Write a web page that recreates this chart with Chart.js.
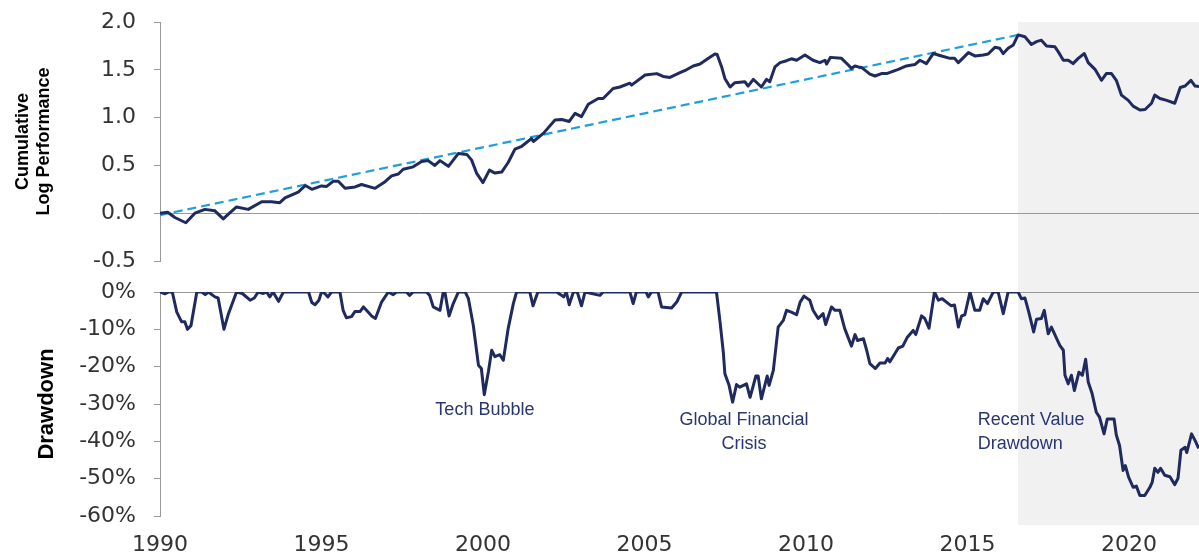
<!DOCTYPE html>
<html>
<head>
<meta charset="utf-8">
<script src="https://cdn.jsdelivr.net/npm/chart.js@4"></script>
<style>
  body { margin: 0; background: #fff; }
  #wrap { position: relative; width: 1199px; height: 558px; }
  #wrap canvas { position: absolute; left: 0; }
  #perfChart { top: 0; }
  #ddChart { top: 277px; }
</style>
</head>
<body>
<div id="wrap">
  <canvas id="perfChart" width="1199" height="277"></canvas>
  <canvas id="ddChart" width="1199" height="281"></canvas>
</div>
<script>
// cumulative log performance
const cumYears = [1990.0, 1990.24, 1990.46, 1990.8, 1991.08, 1991.39, 1991.7, 1991.96, 1992.1, 1992.37, 1992.73,
  1993.15, 1993.45, 1993.71, 1993.87, 1994.28, 1994.5, 1994.7, 1995.0, 1995.16, 1995.37, 1995.52, 1995.73,
  1996.04, 1996.24, 1996.66, 1996.97, 1997.17, 1997.38, 1997.53, 1997.84, 1998.1, 1998.3, 1998.51, 1998.67,
  1998.93, 1999.24, 1999.5, 1999.65, 1999.8, 2000.0, 2000.2, 2000.37, 2000.58, 2000.78, 2000.99, 2001.2,
  2001.5, 2001.56, 2001.87, 2002.23, 2002.44, 2002.67, 2002.85, 2003.05, 2003.26, 2003.57, 2003.72, 2004.03,
  2004.24, 2004.55, 2004.6, 2005.02, 2005.38, 2005.58, 2005.79, 2006.1, 2006.3, 2006.51, 2006.72, 2006.98,
  2007.18, 2007.25, 2007.39, 2007.49, 2007.65, 2007.8, 2008.11, 2008.21, 2008.37, 2008.45, 2008.62, 2008.78,
  2008.88, 2009.04, 2009.2, 2009.4, 2009.55, 2009.71, 2009.97, 2010.22, 2010.43, 2010.59, 2010.64, 2010.76,
  2011.1, 2011.31, 2011.41, 2011.52, 2011.62, 2011.72, 2011.98, 2012.14, 2012.34, 2012.5, 2012.86, 2013.11,
  2013.37, 2013.53, 2013.73, 2013.94, 2014.2, 2014.46, 2014.6, 2014.72, 2015.03, 2015.23, 2015.49, 2015.64,
  2015.85, 2016.0, 2016.11, 2016.26, 2016.42, 2016.57, 2016.78, 2016.98, 2017.14, 2017.29, 2017.45, 2017.71,
  2017.81, 2017.97, 2018.12, 2018.27, 2018.43, 2018.62, 2018.74, 2018.95, 2019.15, 2019.3, 2019.46, 2019.61,
  2019.77, 2019.98, 2020.13, 2020.34, 2020.5, 2020.7, 2020.8, 2020.96, 2021.17, 2021.42, 2021.59, 2021.74,
  2021.92, 2022.05, 2022.17];
const cumValues = [0, 0.01, -0.045, -0.10, 0.0, 0.04, 0.025, -0.06, -0.015, 0.065, 0.04,
  0.12, 0.12, 0.11, 0.16, 0.22, 0.29, 0.25, 0.285, 0.28, 0.335, 0.335, 0.26,
  0.275, 0.30, 0.26, 0.33, 0.39, 0.41, 0.46, 0.485, 0.54, 0.55, 0.50, 0.55,
  0.49, 0.625, 0.615, 0.555, 0.42, 0.32, 0.45, 0.42, 0.43, 0.53, 0.67, 0.70,
  0.78, 0.75, 0.835, 0.975, 0.98, 0.96, 1.045, 1.01, 1.14, 1.20, 1.20, 1.305,
  1.32, 1.36, 1.34, 1.445, 1.46, 1.43, 1.42, 1.47, 1.50, 1.54, 1.56, 1.62,
  1.665, 1.66, 1.53, 1.41, 1.32, 1.365, 1.375, 1.33, 1.40, 1.375, 1.32, 1.40,
  1.375, 1.53, 1.575, 1.595, 1.615, 1.60, 1.655, 1.60, 1.575, 1.60, 1.56, 1.63,
  1.62, 1.55, 1.515, 1.54, 1.53, 1.525, 1.455, 1.435, 1.46, 1.46, 1.505, 1.54,
  1.555, 1.60, 1.565, 1.67, 1.645, 1.62, 1.62, 1.575, 1.68, 1.645, 1.655, 1.665,
  1.735, 1.725, 1.67, 1.725, 1.76, 1.865, 1.845, 1.765, 1.795, 1.81, 1.75, 1.74,
  1.69, 1.60, 1.60, 1.565, 1.62, 1.67, 1.575, 1.505, 1.39, 1.46, 1.46, 1.39,
  1.235, 1.18, 1.12, 1.08, 1.085, 1.15, 1.235, 1.20, 1.18, 1.15, 1.315, 1.33,
  1.39, 1.33, 1.325];

// trend line, start to 2016 peak
const trendYears = [1990.0, 2016.57];
const trendValues = [-0.02, 1.865];

// drawdown (%)
const ddYears = [1990.0, 1990.15, 1990.27, 1990.38, 1990.52, 1990.67, 1990.77, 1990.85, 1990.96, 1991.14,
  1991.3, 1991.4, 1991.5, 1991.7, 1991.8, 1991.98, 1992.12, 1992.37, 1992.55, 1992.79, 1992.92, 1993.04,
  1993.2, 1993.3, 1993.4, 1993.5, 1993.67, 1993.82, 1994.6, 1994.7, 1994.8, 1994.92, 1995.0, 1995.1, 1995.2,
  1995.31, 1995.57, 1995.67, 1995.77, 1995.93, 1996.04, 1996.2, 1996.3, 1996.45, 1996.55, 1996.67, 1996.86,
  1997.07, 1997.22, 1997.32, 1997.63, 1997.73, 1997.84, 1998.25, 1998.35, 1998.46, 1998.67, 1998.77, 1998.82,
  1998.95, 1999.08, 1999.24, 1999.45, 1999.55, 1999.7, 1999.86, 1999.95, 2000.04, 2000.17, 2000.27, 2000.37,
  2000.52, 2000.63, 2000.78, 2000.94, 2001.04, 2001.45, 2001.55, 2001.7, 2002.28, 2002.5, 2002.58, 2002.67,
  2002.8, 2002.92, 2003.05, 2003.16, 2003.62, 2003.72, 2004.55, 2004.65, 2004.75, 2005.05, 2005.12, 2005.22,
  2005.42, 2005.53, 2005.84, 2006.0, 2006.15, 2007.23, 2007.34, 2007.44, 2007.49, 2007.62, 2007.73, 2007.85,
  2007.95, 2008.16, 2008.27, 2008.45, 2008.52, 2008.62, 2008.8, 2008.86, 2008.99, 2009.14, 2009.3, 2009.4,
  2009.55, 2009.71, 2009.82, 2009.94, 2010.12, 2010.22, 2010.38, 2010.53, 2010.61, 2010.79, 2010.9, 2011.05,
  2011.2, 2011.41, 2011.52, 2011.6, 2011.78, 2011.88, 2011.98, 2012.15, 2012.29, 2012.45, 2012.53, 2012.6,
  2012.86, 2013.0, 2013.14, 2013.32, 2013.4, 2013.58, 2013.68, 2013.81, 2013.98, 2014.1, 2014.22, 2014.35,
  2014.5, 2014.6, 2014.72, 2014.82, 2014.92, 2015.08, 2015.23, 2015.38, 2015.49, 2015.62, 2015.8, 2015.95,
  2016.11, 2016.26, 2016.57, 2016.67, 2016.78, 2016.9, 2017.05, 2017.14, 2017.29, 2017.38, 2017.5, 2017.6,
  2017.86, 2017.97, 2018.02, 2018.12, 2018.22, 2018.31, 2018.45, 2018.56, 2018.66, 2018.74, 2018.86, 2018.99,
  2019.09, 2019.23, 2019.33, 2019.54, 2019.61, 2019.71, 2019.82, 2019.89, 2019.99, 2020.13, 2020.23, 2020.34,
  2020.49, 2020.65, 2020.72, 2020.8, 2020.9, 2020.98, 2021.11, 2021.27, 2021.42, 2021.52, 2021.61, 2021.74,
  2021.79, 2021.94, 2022.05, 2022.16];
const ddValues = [0, -0.5, 0, 0, -5.4, -8, -8, -10, -9, 0,
  0, -0.7, 0, -1.3, -1.6, -10, -5.8, 0, -0.4, -2.2, -1.6, 0,
  -0.4, 0, -1.3, 0, -2.5, 0, 0, -2.8, -3.4, -2.2, 0, -0.4, -1.3,
  0, 0, -4.9, -6.9, -6.6, -5.2, -5.2, -4, -5.4, -6.4, -7.1, -2.7,
  0, -0.7, 0, 0, -0.9, 0, 0, -0.9, -4, -4.9, 0, 0,
  -6.4, -3.1, 0, 0, -1.8, -8.9, -19.6, -20.5, -27.5, -21.2, -15.6, -17.3,
  -16.8, -18.3, -9.8, -3.1, 0, 0, -3.7, 0, 0, -1.3, 0, -3.4,
  0, 0, -3.7, 0, -0.9, 0, 0, -3.1, 0, 0, -1.3, 0,
  0, -4, -4.3, -2.7, 0, 0, -8, -16, -21.9, -25, -29.5, -24.8,
  -25.5, -24.6, -28.2, -22.5, -22.5, -28.6, -22.5, -25, -21, -9.4, -7.6, -4.9,
  -5.4, -6.1, -2.7, -1.1, -2.2, -4.9, -7.1, -5.8, -8.7, -4, -4.9, -4.9,
  -9.8, -14.5, -11.4, -13, -12.5, -15.6, -19.2, -20.5, -19, -19, -17.8, -18.7,
  -15, -14.5, -12.1, -10.3, -11.4, -6.4, -7.1, -9.7, 0, -2.2, -1.8, -2.7,
  -3.7, -3.5, -9.4, -6.4, -6.1, 0, -4.9, -4.9, -1.8, -3.1, 0, 0,
  -5.8, 0, 0, -1.8, -1.6, -5.4, -10.7, -7.3, -7.1, -4.9, -11.2, -9.4,
  -14.3, -15.6, -22.3, -24.6, -22.3, -26.4, -21.5, -22.3, -18, -24.1, -27.2, -32.2,
  -33.5, -38, -34, -34, -38.3, -41.1, -47.8, -46.5, -49.6, -52.3, -52, -54.5,
  -54.5, -52.3, -51, -47.2, -48.3, -47.2, -49.1, -49.5, -51.6, -49.9, -42.4, -41.6,
  -43, -38, -39.8, -41.9];

const xTicksYears = [1990, 1995, 2000, 2005, 2010, 2015, 2020];
const shadeStart = 2016.57;
const xMin = 1990, xMax = 2022.17;

const notes = [
  { lines: ['Tech Bubble'], x: 2000.06, y: -31.6, align: 'center' },
  { lines: ['Global Financial', 'Crisis'], x: 2008.08, y: -34.2, align: 'center' },
  { lines: ['Recent Value', 'Drawdown'], x: 2015.32, y: -34.2, align: 'left' }
];

const navy = '#1f2a5e';
const tickFont = { family: 'DejaVu Sans', size: 22 };
const pts = (xs, ys) => xs.map((x, i) => ({ x: x, y: ys[i] }));

const shade = {
    id: 'shade',
    beforeDraw(chart, args, opts) {
        const { ctx, chartArea, scales } = chart;
        const x0 = scales.x.getPixelForValue(shadeStart);
        const top = opts.full === 'down' ? chartArea.top : 0;
        const bottom = opts.full === 'down' ? chart.height : chartArea.bottom + 9;
        ctx.save();
        ctx.fillStyle = '#f1f1f1';
        ctx.fillRect(x0, top, chartArea.right - x0, bottom - top);
        ctx.restore();
    }
};

const notesPlugin = {
    id: 'notes',
    afterDatasetsDraw(chart) {
        const { ctx, scales } = chart;
        ctx.save();
        ctx.fillStyle = '#2a3672';
        ctx.font = '18px "Liberation Sans", Arial, sans-serif';
        ctx.textBaseline = 'middle';
        notes.forEach(n => {
            ctx.textAlign = n.align;
            const px = scales.x.getPixelForValue(n.x);
            const py = scales.y.getPixelForValue(n.y);
            n.lines.forEach((l, i) => ctx.fillText(l, px, py + i * 24));
        });
        ctx.restore();
    }
};

const yAxisCommon = (title, size, pad) => ({
    ticks: { color: '#333', font: tickFont, padding: 18 },
    grid: {
        color: c => c.tick.value === 0 ? '#999' : 'rgba(0,0,0,0)',
        tickColor: '#999',
        tickLength: 6
    },
    border: { color: '#999' },
    title: {
        display: true, text: title, color: '#000',
        font: { family: 'Liberation Sans', size: size, weight: 'bold' },
        padding: { top: pad, bottom: 0 }
    },
    afterFit: s => {
        s.width = 148;
        s.paddingTop = 0;
        s.paddingBottom = 0;
    }
});

const perfY = yAxisCommon(['Cumulative', 'Log Performance'], 18, 0);
perfY.min = -0.5;
perfY.max = 2.0;
perfY.ticks.stepSize = 0.5;
perfY.ticks.callback = v => v.toFixed(1);

new Chart(document.getElementById('perfChart'), {
    type: 'line',
    data: {
        datasets: [{
            data: pts(cumYears, cumValues),
            borderColor: navy,
            borderWidth: 3,
            pointRadius: 0,
            borderJoinStyle: 'round'
        }, {
            data: pts(trendYears, trendValues),
            borderColor: '#1e9fdc',
            borderWidth: 2.2,
            borderDash: [9, 5],
            pointRadius: 0
        }]
    },
    options: {
        responsive: false,
        animation: false,
        layout: { padding: { top: 22, bottom: 16, right: 0, left: 12 } },
        plugins: { legend: { display: false }, tooltip: { enabled: false }, shade: { full: 'down' } },
        scales: {
            x: { type: 'linear', min: xMin, max: xMax, display: false },
            y: perfY
        }
    },
    plugins: [shade]
});

const ddY = yAxisCommon('Drawdown', 22, 22);
ddY.min = -60;
ddY.max = 0;
ddY.ticks.stepSize = 10;
ddY.ticks.callback = v => v + '%';

new Chart(document.getElementById('ddChart'), {
    type: 'line',
    data: {
        datasets: [{
            data: pts(ddYears, ddValues),
            borderColor: navy,
            borderWidth: 3,
            pointRadius: 0,
            borderJoinStyle: 'round'
        }]
    },
    options: {
        responsive: false,
        animation: false,
        layout: { padding: { top: 15, bottom: 0, right: 0, left: 12 } },
        plugins: { legend: { display: false }, tooltip: { enabled: false }, shade: { full: 'up' } },
        scales: {
            x: {
                type: 'linear', min: xMin, max: xMax,
                grid: { display: false, drawTicks: false },
                border: { display: false },
                afterBuildTicks: s => { s.ticks = xTicksYears.map(v => ({ value: v })); },
                afterFit: s => { s.height = 42; },
                ticks: { color: '#333', font: tickFont, padding: 16, maxRotation: 0, callback: v => String(v) }
            },
            y: ddY
        }
    },
    plugins: [shade, notesPlugin]
});
</script>
</body>
</html>
